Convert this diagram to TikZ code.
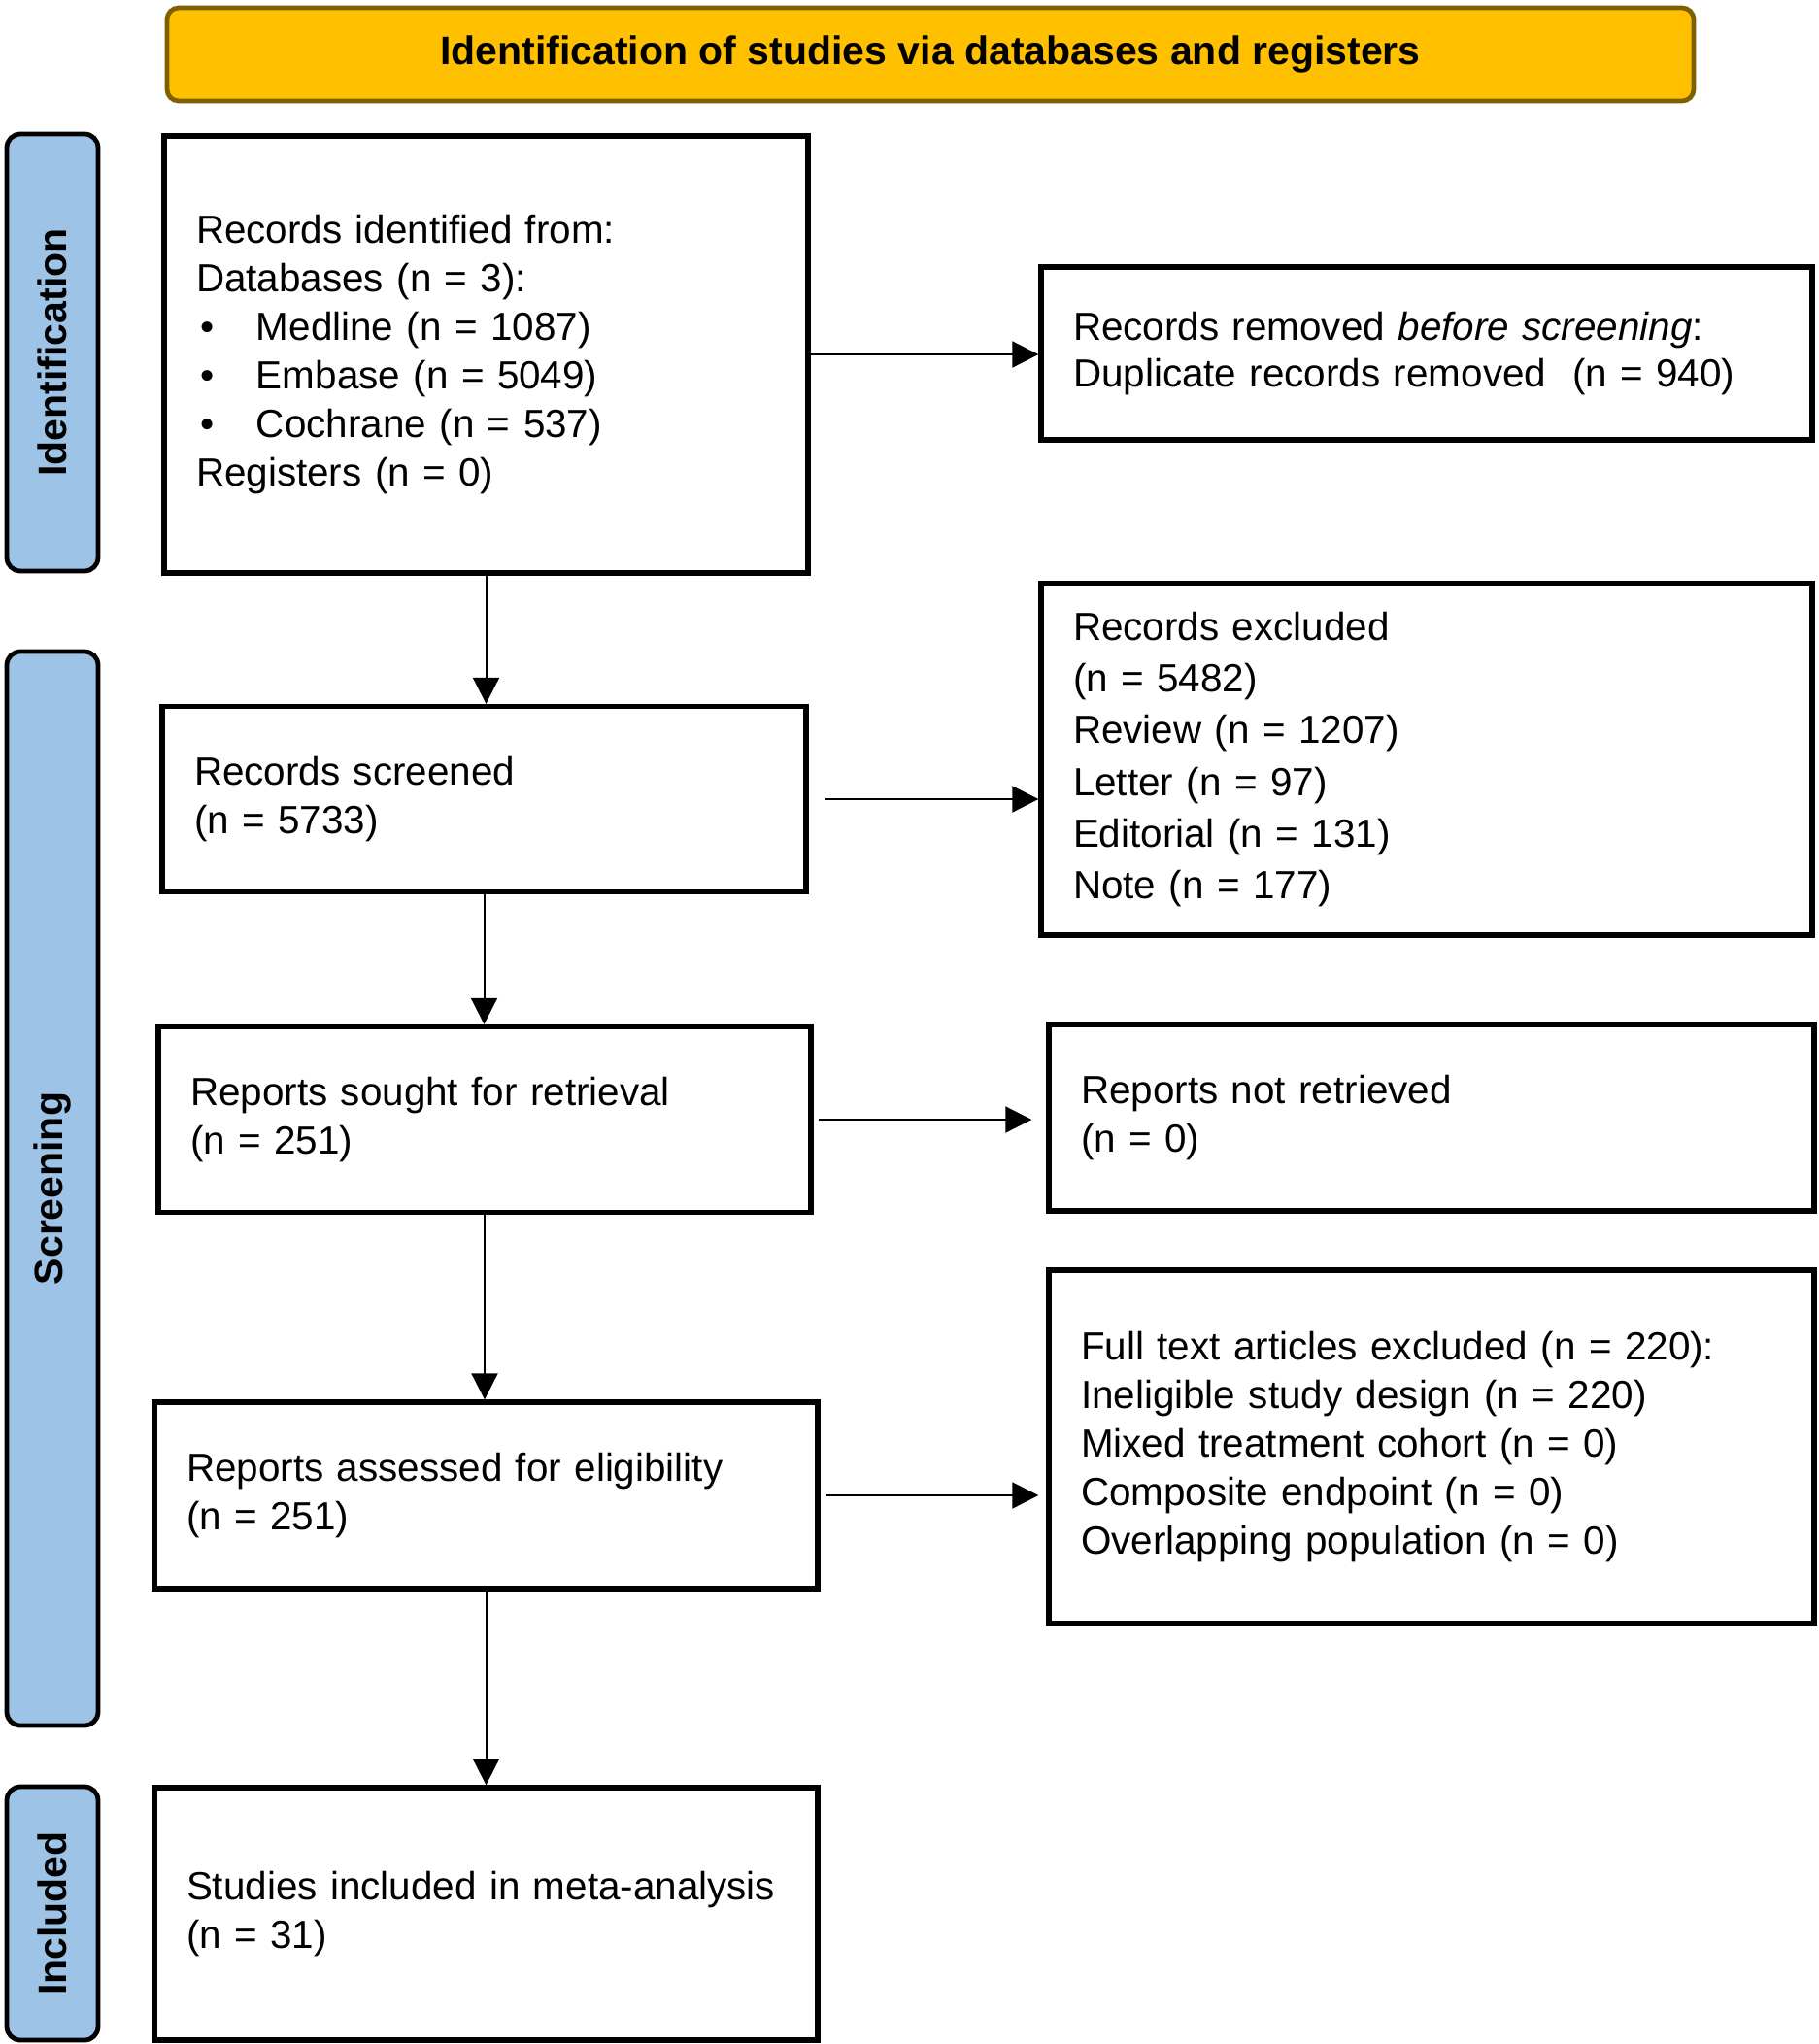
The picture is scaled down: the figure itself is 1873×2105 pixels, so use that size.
\documentclass[tikz,border=0pt]{standalone}
\usepackage{fontspec}
\setmainfont{Liberation Sans}
\usetikzlibrary{arrows.meta}
\definecolor{bannerfill}{HTML}{FFC000}
\definecolor{bannerline}{HTML}{7F6000}
\definecolor{sidefill}{HTML}{9DC3E6}
\begin{document}
\begin{tikzpicture}[x=0.5pt,y=-0.5pt,
  flowbox/.style={draw=black, line width=2.7pt, rectangle, align=left,
    inner xsep=16.5pt, inner ysep=0pt, font=\fontsize{20.2}{25}\selectfont},
  sidebox/.style={draw=black, line width=2.4pt, fill=sidefill, rounded corners=7pt,
    rotate=90, minimum height=47pt, inner sep=0pt,
    font=\fontsize{20.5}{25}\selectfont\bfseries},
  flowarrow/.style={line width=1pt, -{Triangle[length=13.5pt,width=13.5pt]}}
]
\useasboundingbox (0,0) rectangle (1873,2105);

% banner
\node[draw=bannerline, line width=2.4pt, fill=bannerfill, rounded corners=6pt,
  minimum width=786pt, minimum height=48pt, inner sep=0pt,
  font=\fontsize{20.5}{25}\selectfont\bfseries] (banner) at (958,56)
  {Identification of studies via databases and registers};

% side bars
\node[sidebox, minimum width=225pt] (sideid) at (54,363) {Identification};
\node[sidebox, minimum width=553pt] (sidescr) at (54,1224) {Screening};
\node[sidebox, minimum width=130.5pt] (sideinc) at (54,1970.5) {Included};

% left column
\node[flowbox, minimum width=331.5pt, text width=298.5pt, minimum height=225pt] (ident) at (500.5,365)
  {Records identified from:\\
   Databases (n = 3):\\
   \makebox[31pt][l]{\hspace{2pt}•}Medline (n = 1087)\\
   \makebox[31pt][l]{\hspace{2pt}•}Embase (n = 5049)\\
   \makebox[31pt][l]{\hspace{2pt}•}Cochrane (n = 537)\\
   Registers (n = 0)};
\node[flowbox, minimum width=331.5pt, text width=298.5pt, minimum height=95.5pt] (scr) at (498.5,823)
  {Records screened\\(n = 5733)};
\node[flowbox, minimum width=336pt, text width=303pt, minimum height=95.5pt] (sought) at (499,1153)
  {Reports sought for retrieval\\(n = 251)};
\node[flowbox, minimum width=341.5pt, text width=308.5pt, minimum height=96pt] (assess) at (500.5,1540)
  {Reports assessed for eligibility\\(n = 251)};
\node[flowbox, minimum width=341.5pt, text width=308.5pt, minimum height=130pt] (incl) at (500.5,1971)
  {Studies included in meta-analysis\\(n = 31)};

% right column
\node[flowbox, minimum width=397pt, text width=364pt, minimum height=89pt,
  font=\fontsize{20.2}{24.2}\selectfont] (removed) at (1469,364)
  {Records removed \textit{before screening}:\\Duplicate records removed\ \ (n = 940)};
\node[flowbox, minimum width=397pt, text width=364pt, minimum height=181pt,
  font=\fontsize{20.2}{26.6}\selectfont] (excl) at (1469,782)
  {Records excluded\\(n = 5482)\\Review (n = 1207)\\Letter (n = 97)\\Editorial (n = 131)\\Note (n = 177)};
\node[flowbox, minimum width=394pt, text width=361pt, minimum height=96pt] (notret) at (1474,1151)
  {Reports not retrieved\\(n = 0)};
\node[flowbox, minimum width=394pt, text width=361pt, minimum height=182pt] (fulltext) at (1474,1490)
  {Full text articles excluded (n = 220):\\Ineligible study design (n = 220)\\Mixed treatment cohort (n = 0)\\Composite endpoint (n = 0)\\Overlapping population (n = 0)};

% vertical arrows
\draw[flowarrow] (ident.south) -- (ident.south |- scr.north);
\draw[flowarrow] (scr.south) -- (scr.south |- sought.north);
\draw[flowarrow] (sought.south) -- (sought.south |- assess.north);
\draw[flowarrow] (assess.south) -- (assess.south |- incl.north);

% horizontal arrows
\draw[flowarrow] (ident.east) -- (ident.east -| removed.west);
\draw[flowarrow, shorten <=8.5pt] (scr.east) -- (scr.east -| excl.west);
\draw[flowarrow, shorten <=2.5pt, shorten >=7.5pt] (sought.east) -- (sought.east -| notret.west);
\draw[flowarrow, shorten <=3pt, shorten >=4pt] (assess.east) -- (assess.east -| fulltext.west);
\end{tikzpicture}
\end{document}
